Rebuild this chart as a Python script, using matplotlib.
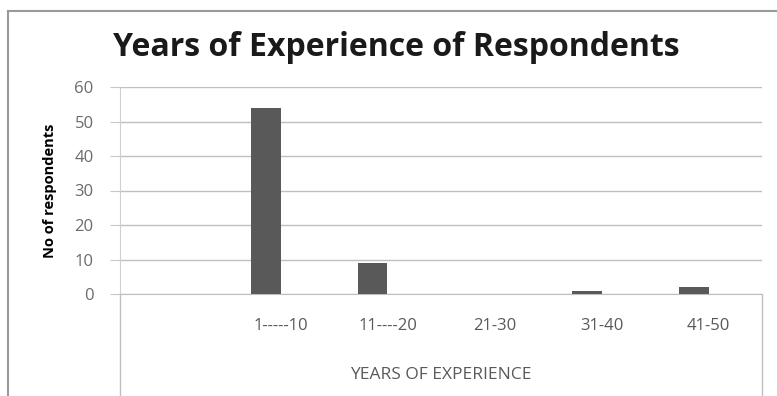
import matplotlib
matplotlib.use("Agg")
import matplotlib.pyplot as plt
from matplotlib.lines import Line2D
import numpy as np

categories = ["", "1-----10", "11----20", "21-30", "31-40", "41-50"]
values = [0, 54, 9, 0, 1, 2]
yticks = [0, 10, 20, 30, 40, 50, 60]

W, H = 777, 396
fig = plt.figure(figsize=(W/100, H/100), dpi=100)
fig.patch.set_facecolor("white")

L, R, T, B = 120, 762, 87, 294
ax = fig.add_axes([L/W, 1-B/H, (R-L)/W, (B-T)/H])
x = np.arange(len(categories))
bw = 0.28
ax.bar(x - bw/2, values, width=bw, color="#595959", zorder=3)
ax.set_xlim(-0.5, len(categories)-0.5)
ax.set_ylim(0, 60)
ax.set_yticks(yticks)
ax.set_yticklabels([str(v) for v in yticks], fontsize=12, color="#6b6b6b", family="Open Sans")
ax.set_xticks(x)
ax.set_xticklabels(categories, fontsize=12, color="#595959", family="Open Sans")
ax.tick_params(axis="y", length=7, color="#c8c8c8", pad=12)
ax.tick_params(axis="x", length=0, pad=17)
ax.grid(axis="y", color="#bfbfbf", linewidth=1, zorder=0)
for s in ["top", "right"]:
    ax.spines[s].set_visible(False)
ax.spines["left"].set_color("#d0d0d0")
ax.spines["bottom"].set_color("#bfbfbf")
ax.set_facecolor("none")

ax.set_ylabel("No of respondents", fontsize=10.5, fontweight="bold", family="Open Sans")
ax.yaxis.set_label_coords(-63/(R-L), 0.5)

fig.text((L+R)/2/W, 1-375/H, "YEARS OF EXPERIENCE", ha="center", va="center",
         fontsize=12.5, color="#595959", family="Open Sans")
fig.text(396/W, 1-47/H, "Years of Experience of Respondents", ha="center", va="center",
         fontsize=23, fontweight="bold", color="#1a1a1a", family="Open Sans")

# lower box lines
fig.add_artist(Line2D([L/W, L/W], [1-B/H, 0], color="#bfbfbf", lw=1))
fig.add_artist(Line2D([R/W, R/W], [1-B/H, 0], color="#bfbfbf", lw=1))
# outer frame
fig.add_artist(Line2D([8/W, 8/W], [0, 1-11/H], color="#999999", lw=1.5))
fig.add_artist(Line2D([8/W, 1], [1-11/H, 1-11/H], color="#999999", lw=1.5))

fig.savefig("out.png", dpi=100)
